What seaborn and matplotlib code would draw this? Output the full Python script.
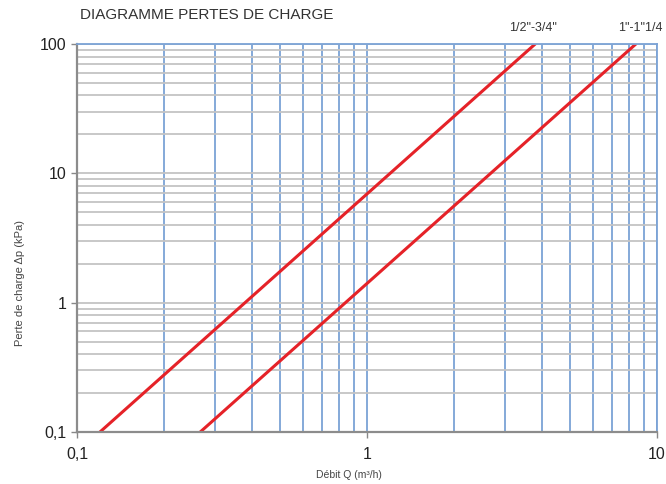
import numpy as np
import pandas as pd
import matplotlib.pyplot as plt
import matplotlib.ticker as mticker
import seaborn as sns

sns.set_theme(style="white")
plt.rcParams['font.family'] = ['Liberation Sans', 'DejaVu Sans']

# endpoints (straight lines on log-log)
q_half = [0.12, 3.8]
dp_half = [0.1, 100]
q_one = [0.266, 8.45]
dp_one = [0.1, 100]
series_labels = ['1/2"-3/4"', '1"-1"1/4']

df = pd.DataFrame({
    "Q": q_half + q_one,
    "dp": dp_half + dp_one,
    "serie": [series_labels[0]] * 2 + [series_labels[1]] * 2,
})

fig = plt.figure(figsize=(6.66, 4.84), dpi=100)
ax = fig.add_axes([0.1156, 0.1074, 0.871, 0.8017])
ax.set_xscale("log")
ax.set_yscale("log")
ax.set_xlim(0.1, 10)
ax.set_ylim(0.1, 100)

# grid: blue verticals, grey horizontals
ax.xaxis.set_minor_locator(mticker.LogLocator(base=10, subs=np.arange(2, 10)))
ax.yaxis.set_minor_locator(mticker.LogLocator(base=10, subs=np.arange(2, 10)))
ax.grid(True, which="both", axis="x", color="#7ba3d6", linewidth=1.3)
ax.grid(True, which="both", axis="y", color="#c4c4c4", linewidth=1.3)
ax.set_axisbelow(True)

sns.lineplot(data=df, x="Q", y="dp", hue="serie", palette=["#e52228", "#e52228"],
             linewidth=2.2, legend=False, ax=ax, estimator=None, units="serie")

fmt = mticker.FuncFormatter(lambda v, p: ("%g" % v).replace(".", ","))
ax.xaxis.set_major_formatter(fmt)
ax.yaxis.set_major_formatter(fmt)
ax.xaxis.set_minor_formatter(mticker.NullFormatter())
ax.yaxis.set_minor_formatter(mticker.NullFormatter())
ax.tick_params(axis="both", which="major", length=4, width=1, color="#888888",
               labelsize=11.5, labelcolor="#222222", direction="out",
               bottom=True, left=True)
ax.tick_params(axis="both", which="minor", length=0)
ax.tick_params(axis="x", pad=7)

for s in ["left", "bottom"]:
    ax.spines[s].set_color("#8c8c8c")
    ax.spines[s].set_linewidth(1.6)
for s in ["top", "right"]:
    ax.spines[s].set_color("#7ba3d6")
    ax.spines[s].set_linewidth(1.3)

ax.set_xlabel("Débit Q (m³/h)", fontsize=7.5, color="#444444")
ax.set_ylabel("Perte de charge Δp (kPa)", fontsize=8, color="#444444")
ax.xaxis.set_label_coords(0.469, -0.097)
ax.yaxis.set_label_coords(-0.09, 0.385)

fig.text(0.12, 0.968, "DIAGRAMME PERTES DE CHARGE", fontsize=11, color="#333333",
         ha="left", va="center")
fig.text(0.801, 0.942, series_labels[0], fontsize=9, color="#333333", ha="center", va="center")
fig.text(0.962, 0.942, series_labels[1], fontsize=9, color="#333333", ha="center", va="center")

fig.savefig("out.png", dpi=100)
